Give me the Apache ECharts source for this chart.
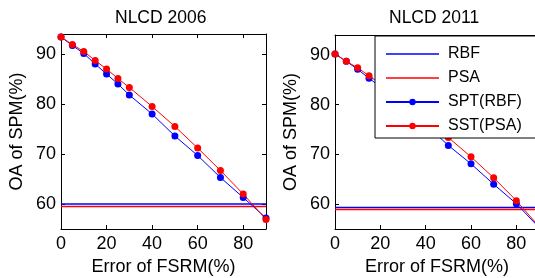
<!DOCTYPE html>
<html>
<head>
<meta charset="utf-8">
<script src="https://cdn.jsdelivr.net/npm/echarts@6/dist/echarts.min.js"></script>
<style>
  html, body { margin: 0; padding: 0; background: #fff; }
  #chart { width: 535px; height: 278px; }
</style>
</head>
<body>
<div id="chart"></div>
<script>
// error of FSRM (%) on the x axis
const errors = [0, 5, 10, 15, 20, 25, 30, 40, 50, 60, 70, 80, 90]

// NLCD 2006
const spt2006 = [93.4, 91.7, 90.1, 88.0, 86.0, 84.0, 81.8, 78.0, 73.6, 69.7, 65.3, 61.3, 57.2]
const sst2006 = [93.4, 91.9, 90.5, 88.7, 87.0, 85.1, 83.3, 79.5, 75.5, 71.2, 66.7, 62.0, 56.9]
const rbf2006 = 60.0
const psa2006 = 59.5

// NLCD 2011
const spt2011 = [90.2, 88.7, 87.1, 85.3, 83.6, 81.8, 79.9, 76.0, 71.8, 68.1, 64.0, 60.1, 55.3]
const sst2011 = [90.2, 88.7, 87.4, 85.8, 84.2, 82.5, 80.8, 77.2, 73.4, 69.5, 65.3, 60.7, 55.5]
const rbf2011 = 59.3
const psa2011 = 58.9

const xTicks = [0, 20, 40, 60, 80]
const yTicks = [60, 70, 80, 90]

const font = "'Liberation Sans', Arial, sans-serif"
const blue = '#0000ff'
const red = '#ff0000'

const chart = echarts.init(document.getElementById('chart'), null, { renderer: 'canvas' })

function xAxes (gridIndex) {
  return [
    {
      gridIndex,
      type: 'value',
      min: 0,
      max: 90,
      position: 'bottom',
      name: 'Error of FSRM(%)',
      nameLocation: 'middle',
      nameGap: 21,
      nameTextStyle: { fontFamily: font, fontSize: 18, color: '#000' },
      axisLine: { onZero: false, lineStyle: { color: '#000', width: 1 } },
      axisTick: { inside: true, length: 4, customValues: xTicks, lineStyle: { color: '#000' } },
      axisLabel: { customValues: xTicks, margin: 6, fontFamily: font, fontSize: 18, color: '#000' },
      splitLine: { show: false }
    },
    {
      gridIndex,
      type: 'value',
      min: 0,
      max: 90,
      position: 'top',
      axisLine: { onZero: false, lineStyle: { color: '#000', width: 1 } },
      axisTick: { inside: true, length: 4, customValues: xTicks, lineStyle: { color: '#000' } },
      axisLabel: { show: false },
      splitLine: { show: false }
    }
  ]
}

function yAxes (gridIndex) {
  return [
    {
      gridIndex,
      type: 'value',
      min: 55,
      max: 94,
      position: 'left',
      name: 'OA of SPM(%)',
      nameLocation: 'middle',
      nameGap: 35,
      nameTextStyle: { fontFamily: font, fontSize: 18, color: '#000' },
      axisLine: { show: true, onZero: false, lineStyle: { color: '#000', width: 1 } },
      axisTick: { show: true, inside: true, length: 4, customValues: yTicks, lineStyle: { color: '#000' } },
      axisLabel: { customValues: yTicks, margin: 5, fontFamily: font, fontSize: 18, color: '#000' },
      splitLine: { show: false }
    },
    {
      gridIndex,
      type: 'value',
      min: 55,
      max: 94,
      position: 'right',
      axisLine: { show: true, onZero: false, lineStyle: { color: '#000', width: 1 } },
      axisTick: { show: true, inside: true, length: 4, customValues: yTicks, lineStyle: { color: '#000' } },
      axisLabel: { show: false },
      splitLine: { show: false }
    }
  ]
}

function flat (name, value, color, axis) {
  return {
    name,
    type: 'line',
    xAxisIndex: axis,
    yAxisIndex: axis,
    data: [[0, value], [90, value]],
    symbol: 'none',
    lineStyle: { color, width: 1.5 },
    itemStyle: { color },
    silent: true,
    animation: false
  }
}

function curve (name, values, color, axis) {
  return {
    name,
    type: 'line',
    xAxisIndex: axis,
    yAxisIndex: axis,
    data: errors.map((x, i) => [x, values[i]]),
    symbol: 'circle',
    symbolSize: 7,
    clip: false,
    lineStyle: { color, width: 1 },
    itemStyle: { color },
    silent: true,
    animation: false
  }
}

// plain line icon for the flat reference series
const lineIcon = 'path://M0,0L53,0L53,1.5L0,1.5Z'

const titleStyle = { fontFamily: font, fontSize: 17.5, fontWeight: 'normal', color: '#000' }

const option = {
  animation: false,
  backgroundColor: '#fff',
  title: [
    { text: 'NLCD 2006', left: 110, top: 4, textStyle: titleStyle },
    { text: 'NLCD 2011', left: 384, top: 4, textStyle: titleStyle }
  ],
  grid: [
    { left: 61, top: 34, width: 205, height: 195, outerBoundsMode: 'none' },
    { left: 335, top: 35, width: 204, height: 194, outerBoundsMode: 'none' }
  ],
  xAxis: [...xAxes(0), ...xAxes(1)],
  yAxis: [...yAxes(0), ...yAxes(1)],
  legend: {
    left: 375,
    top: 36,
    orient: 'vertical',
    data: [
      { name: 'RBF', icon: lineIcon },
      { name: 'PSA', icon: lineIcon },
      { name: 'SPT(RBF)' },
      { name: 'SST(PSA)' }
    ],
    itemWidth: 53,
    itemHeight: 8,
    itemGap: 8,
    padding: [10, 60, 4, 10],
    backgroundColor: '#fff',
    borderColor: '#000',
    borderWidth: 1,
    borderRadius: 0,
    selectedMode: false,
    textStyle: { fontFamily: font, fontSize: 16, color: '#000', padding: [0, 0, 0, 4] }
  },
  series: [
    flat('RBF', rbf2006, blue, 0),
    flat('PSA', psa2006, red, 0),
    curve('SPT(RBF)', spt2006, blue, 0),
    curve('SST(PSA)', sst2006, red, 0),
    flat('RBF', rbf2011, blue, 2),
    flat('PSA', psa2011, red, 2),
    curve('SPT(RBF)', spt2011, blue, 2),
    curve('SST(PSA)', sst2011, red, 2)
  ]
}

chart.setOption(option)
window.addEventListener('resize', chart.resize)
</script>
</body>
</html>
